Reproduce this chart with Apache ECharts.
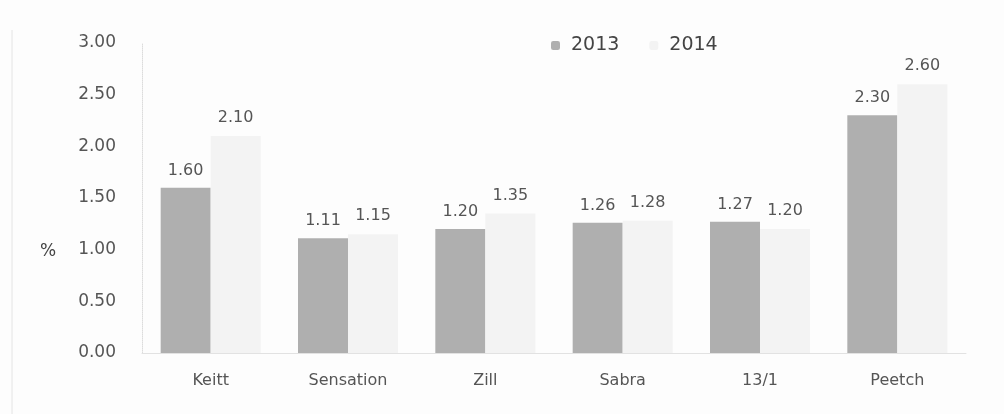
<!DOCTYPE html>
<html>
<head>
<meta charset="utf-8">
<script src="https://cdn.jsdelivr.net/npm/echarts@6/dist/echarts.min.js"></script>
<style>
html,body{margin:0;padding:0;background:#fdfdfd;}
#c{width:1004px;height:414px;}
</style>
</head>
<body>
<div id="c"></div>
<script>
const categories = ['Keitt', 'Sensation', 'Zill', 'Sabra', '13/1', 'Peetch'];
const values2013 = [1.60, 1.11, 1.20, 1.26, 1.27, 2.30];
const values2014 = [2.10, 1.15, 1.35, 1.28, 1.20, 2.60];
const yTicks = [0, 0.5, 1.0, 1.5, 2.0, 2.5, 3.0];

const font = 'DejaVu Sans';
const chart = echarts.init(document.getElementById('c'));
chart.setOption({
  backgroundColor: '#fdfdfd',
  animation: false,
  textStyle: { fontFamily: font },
  grid: { left: 142, right: 38, top: 43, bottom: 61 },
  legend: {
    left: 546, top: 31,
    itemWidth: 9, itemHeight: 9, itemGap: 30,
    textStyle: { fontSize: 19, color: '#444', fontFamily: font, padding: [0, 0, 0, 6] },
    data: ['2013', '2014']
  },
  graphic: [
    { type: 'text', left: 40, top: 243, style: { text: '%', fontSize: 17, fill: '#444', fontFamily: font } },
    { type: 'line', shape: { x1: 12, y1: 30, x2: 12, y2: 414 }, style: { stroke: '#e4e4e4', lineWidth: 1 } }
  ],
  xAxis: {
    type: 'category',
    data: categories,
    axisLine: { show: true, lineStyle: { color: '#e2e2e2' } },
    axisTick: { show: false },
    axisLabel: { fontSize: 16, color: '#555', margin: 20, fontFamily: font }
  },
  yAxis: {
    type: 'value',
    min: 0, max: 3, interval: 0.5,
    axisLine: { show: true, lineStyle: { color: '#dcdcdc', type: 'dotted' } },
    axisTick: { show: false },
    splitLine: { show: false },
    axisLabel: {
      fontSize: 17, color: '#555', margin: 26, fontFamily: font,
      formatter: v => yTicks.includes(v) ? v.toFixed(2) : ''
    }
  },
  series: [
    {
      name: '2013', type: 'bar', data: values2013,
      barWidth: 50, barGap: '0%',
      itemStyle: { color: '#afafaf' },
      label: { show: true, position: 'top', distance: 9, fontSize: 16, color: '#555', fontFamily: font, formatter: p => p.value.toFixed(2) }
    },
    {
      name: '2014', type: 'bar', data: values2014,
      barWidth: 50,
      itemStyle: { color: '#f3f3f3' },
      label: { show: true, position: 'top', distance: 10, fontSize: 16, color: '#555', fontFamily: font, formatter: p => p.value.toFixed(2) }
    }
  ]
});
</script>
</body>
</html>
